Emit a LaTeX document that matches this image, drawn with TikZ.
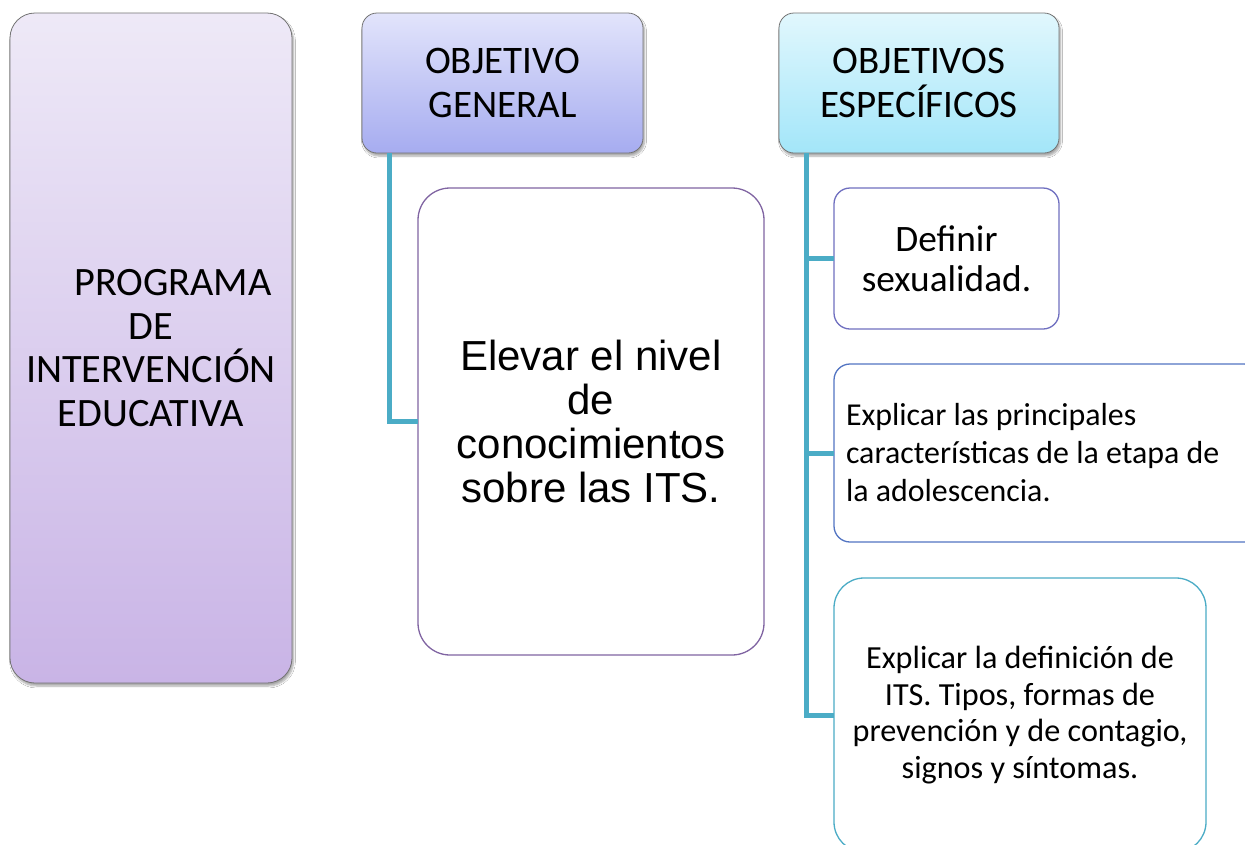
\documentclass[tikz,border=0pt]{standalone}
\usepackage{fontspec}
\setmainfont{Carlito}
\newfontfamily\arialf{Liberation Sans}
\usetikzlibrary{shadows.blur}
\definecolor{conn}{HTML}{4BACC6}
\definecolor{leftTop}{HTML}{EEE9F7}
\definecolor{leftBot}{HTML}{C9B4E6}
\definecolor{ogTop}{HTML}{E2E4FB}
\definecolor{ogBot}{HTML}{A6ACF0}
\definecolor{oeTop}{HTML}{E1F7FD}
\definecolor{oeBot}{HTML}{A3E6F9}
\definecolor{purp}{HTML}{8064A2}
\definecolor{bluep}{HTML}{6F6FC0}
\definecolor{bluem}{HTML}{5274C2}
\begin{document}
\begin{tikzpicture}[x=1pt,y=-1pt,
  base/.style={anchor=north west,inner sep=0pt,outer sep=0pt,align=center,text=black},
  header/.style={base,draw=black!55,line width=0.8pt,rounded corners=15pt,
    blur shadow={shadow xshift=1.5pt,shadow yshift=-3pt,shadow blur steps=6,shadow opacity=35},
    font=\fontsize{39}{43.5}\selectfont},
  leaf/.style={base,fill=white,line width=1.3pt,rounded corners=16pt,
    font=\fontsize{31}{37.5}\selectfont},
  link/.style={draw=conn,line width=5pt,line join=miter}]
\clip (0,0) rectangle (1245,844);
\fill[white] (0,0) rectangle (1245,844);
\node[header,top color=leftTop,bottom color=leftBot,rounded corners=25pt,
  minimum width=282pt,minimum height=670pt,font=\fontsize{40.3}{43.5}\selectfont] (prog) at (10,13)
  {\hspace*{44pt}PROGRAMA\\DE\\INTERVENCIÓN\\EDUCATIVA};
\node[header,top color=ogTop,bottom color=ogBot,
  minimum width=281pt,minimum height=140pt] (og) at (362,13) {OBJETIVO\\GENERAL};
\node[header,top color=oeTop,bottom color=oeBot,
  minimum width=280pt,minimum height=140pt] (oe) at (779,13) {OBJETIVOS\\ESPECÍFICOS};
\coordinate (ogs) at ([xshift=27pt]og.south west);
\coordinate (oes) at ([xshift=27pt]oe.south west);
\node[leaf,draw=purp,rounded corners=32pt,minimum width=346pt,minimum height=467pt,
  font=\arialf\fontsize{42}{44}\selectfont] (elev) at (418,188)
  {Elevar el nivel\\de\\conocimientos\\sobre las ITS.};
\node[leaf,draw=bluep,minimum width=225pt,minimum height=141pt,
  font=\fontsize{37.3}{40}\selectfont] (def) at (834,188) {Definir\\sexualidad.};
\node[leaf,draw=bluem,minimum width=426pt,minimum height=178pt,align=flush left,
  text width=402pt,inner xsep=12pt,font=\fontsize{31.9}{38}\selectfont] (prin) at (834,364)
  {Explicar las principales\\características de la etapa de\\la adolescencia.};
\node[leaf,draw=conn,rounded corners=30pt,minimum width=372pt,minimum height=274pt,
  font=\fontsize{32.2}{36.5}\selectfont] (defi) at (834,578)
  {Explicar la definición de\\ITS. Tipos, formas de\\prevención y de contagio,\\signos y síntomas.};
\draw[link] (ogs) |- (elev.west);
\draw[link] (oes) |- (defi.west);
\draw[link] (oes) |- (def.west);
\draw[link] (oes) |- (prin.west);
\end{tikzpicture}
\end{document}
